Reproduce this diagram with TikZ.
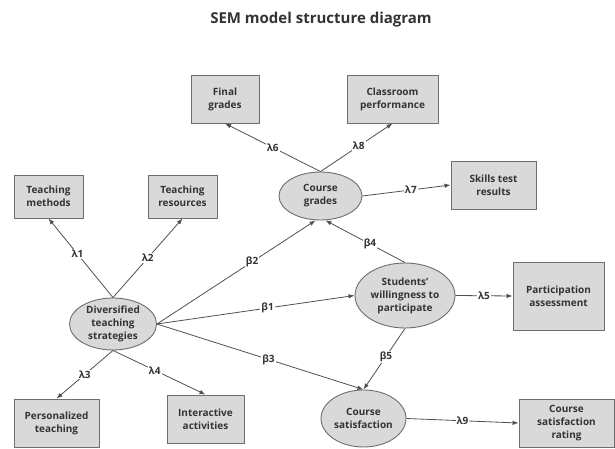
\documentclass[tikz,border=0pt]{standalone}
\usepackage{fontspec}
\setmainfont{Open Sans}
\usetikzlibrary{shapes.geometric,arrows.meta}
\definecolor{boxfill}{HTML}{D9D9D9}
\definecolor{boxline}{HTML}{6E6E6E}
\definecolor{txt}{HTML}{333333}
\definecolor{edgec}{HTML}{505050}
\tikzset{
  mvar/.style={draw=boxline, fill=boxfill, line width=0.9pt, align=center, inner sep=0pt,
    font=\fontsize{10}{13}\selectfont\bfseries, text=txt},
  lvar/.style={ellipse, draw=boxline, fill=boxfill, line width=0.9pt, align=center, inner sep=0pt,
    font=\fontsize{10}{13}\selectfont\bfseries, text=txt},
  conn/.style={draw=edgec, line width=0.8pt, -{Latex[length=6pt,width=4.5pt]}},
  lab/.style={fill=white, inner sep=1pt, font=\fontsize{10}{11}\selectfont\bfseries, text=txt}
}
\begin{document}
\begin{tikzpicture}[x=1pt,y=-1pt]
\useasboundingbox (0,0) rectangle (615,449);
\node[font=\fontsize{15}{17}\selectfont\bfseries, text=txt] (title) at (321,20) {SEM model structure diagram};
% measured variables
\node[mvar, minimum width=68, minimum height=48] (fg) at (225,99) {Final\\grades};
\node[mvar, minimum width=91, minimum height=48] (cp) at (392.5,99) {Classroom\\performance};
\node[mvar, minimum width=69, minimum height=43] (tm) at (48.5,196.5) {Teaching\\methods};
\node[mvar, minimum width=69, minimum height=43] (tr) at (182.5,196.5) {Teaching\\resources};
\node[mvar, minimum width=85, minimum height=48] (st) at (493.5,185) {Skills test\\results};
\node[mvar, minimum width=91, minimum height=68] (pa) at (558.5,296) {Participation\\assessment};
\node[mvar, minimum width=85, minimum height=48] (pt) at (56.5,423) {Personalized\\teaching};
\node[mvar, minimum width=77, minimum height=48] (ia) at (205.5,419) {Interactive\\activities};
\node[mvar, minimum width=95, minimum height=48] (csr) at (566.5,423) {Course\\satisfaction\\rating};
% latent variables
\node[lvar, minimum width=83, minimum height=48] (cg) at (320.5,196) {Course\\grades};
\node[lvar, minimum width=100, minimum height=65] (sw) at (405,295.5) {Students'\\willingness to\\participate};
\node[lvar, minimum width=87, minimum height=52] (dts) at (113,324) {Diversified\\teaching\\strategies};
\node[lvar, minimum width=85, minimum height=57] (cs) at (363.5,418.5) {Course\\satisfaction};
% connectors
\draw[conn] (dts.north) -- node[lab, pos=0.55] {λ1} (tm.south);
\draw[conn] (dts.north) -- node[lab, pos=0.5] {λ2} (tr.south);
\draw[conn] (dts.south) -- node[lab, pos=0.5] {λ3} (pt.north);
\draw[conn] (dts.south) -- node[lab, pos=0.45] {λ4} (ia.north);
\draw[conn] (dts.east) -- node[lab, pos=0.6] {β2} ([xshift=-5pt]cg.south);
\draw[conn] (dts.east) -- node[lab, pos=0.56] {β1} (sw.west);
\draw[conn] (dts.east) -- node[lab, pos=0.54] {β3} (cs.north);
\draw[conn] (sw.north) -- node[lab, pos=0.44] {β4} ([xshift=5pt]cg.south);
\draw[conn] (sw.south) -- node[lab, pos=0.46] {β5} (cs.north);
\draw[conn] (cg.north) -- node[lab, pos=0.5] {λ6} (fg.south);
\draw[conn] (cg.north) -- node[lab, pos=0.53] {λ8} (cp.south);
\draw[conn] (cg.east) -- node[lab, pos=0.55] {λ7} (st.west);
\draw[conn] (sw.east) -- node[lab, pos=0.5] {λ5} (pa.west);
\draw[conn] (cs.east) -- node[lab, pos=0.5] {λ9} (csr.west);
\end{tikzpicture}
\end{document}
